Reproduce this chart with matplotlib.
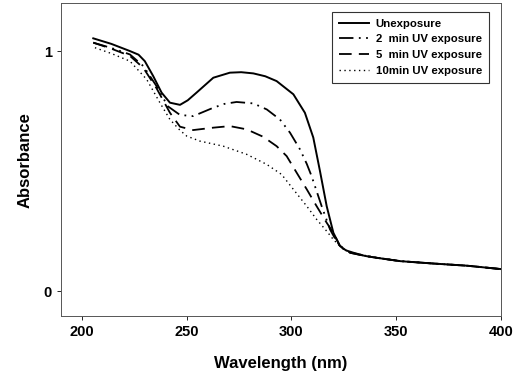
import numpy as np
import matplotlib.pyplot as plt

plt.rcParams['font.family'] = 'Liberation Sans'
plt.rcParams['xtick.direction'] = 'out'
plt.rcParams['ytick.direction'] = 'out'

# wavelength (nm) and absorbance
wl_0 = [205.4, 214, 222.9, 227, 230, 234, 238, 242, 246.8, 250.5, 254.7, 262.7, 270.6, 276, 281.8, 287.5,
        292.9, 300.9, 306.4, 310.4, 313.6, 316.8, 320, 323.2, 326, 329.6, 335, 340.7, 352, 368, 384, 400]
ab_0 = [1.053, 1.03, 1.0, 0.985, 0.958, 0.896, 0.827, 0.785, 0.776, 0.795, 0.827, 0.889, 0.91, 0.912, 0.907, 0.895,
        0.875, 0.82, 0.743, 0.64, 0.50, 0.354, 0.243, 0.1875, 0.17, 0.16, 0.147, 0.139, 0.125, 0.115, 0.106, 0.092]

wl_2 = [205.4, 214, 222.9, 229.3, 235.6, 241, 246.8, 253.1, 262.7, 268, 273.8, 281.8, 288.2, 294.5, 299.3, 304.1,
        307.3, 309.6, 314.4, 318.4, 321.5, 324, 328, 335, 340.7, 352, 368, 384, 400]
ab_2 = [1.035, 1.013, 0.986, 0.9375, 0.854, 0.77, 0.734, 0.729, 0.764, 0.78, 0.788, 0.782, 0.757, 0.715, 0.66, 0.59,
        0.53, 0.479, 0.354, 0.257, 0.208, 0.18, 0.16, 0.147, 0.139, 0.125, 0.115, 0.106, 0.092]

wl_5 = [205.4, 214, 222.9, 229.3, 235.6, 242, 246.8, 253.1, 262.7, 270.6, 278.6, 286.5, 292.9, 297.7, 302.5,
        307.3, 312, 316.8, 320, 323, 328, 335, 340.7, 352, 368, 384, 400]
ab_5 = [1.035, 1.01, 0.98, 0.93, 0.845, 0.743, 0.685, 0.671, 0.681, 0.6875, 0.674, 0.643, 0.604, 0.5625, 0.493,
        0.424, 0.354, 0.285, 0.243, 0.19, 0.16, 0.147, 0.139, 0.125, 0.115, 0.106, 0.092]

wl_10 = [206.2, 214, 222.9, 230.9, 237.2, 242, 246.8, 250, 256.3, 267.4, 278.6, 288.2, 295.3, 300.9, 307.3,
         312, 316.8, 320, 324, 328, 335, 340.7, 352, 368, 384, 400]
ab_10 = [1.014, 0.99, 0.958, 0.882, 0.785, 0.715, 0.67, 0.646, 0.625, 0.604, 0.57, 0.528, 0.486, 0.424, 0.354,
         0.299, 0.25, 0.215, 0.18, 0.162, 0.149, 0.14, 0.126, 0.115, 0.106, 0.092]

labels = ['Unexposure', '2  min UV exposure', '5  min UV exposure', '10min UV exposure']

fig = plt.figure(figsize=(5.23, 3.80), dpi=100)
ax = fig.add_axes([0.1166, 0.168, 0.8414, 0.824])

ax.plot(wl_0, ab_0, color='k', lw=1.4, ls='-', label=labels[0])
ax.plot(wl_2, ab_2, color='k', lw=1.3, ls=(0, (8, 3, 1, 3, 1, 3)), label=labels[1])
ax.plot(wl_5, ab_5, color='k', lw=1.3, ls=(0, (7, 4)), label=labels[2])
ax.plot(wl_10, ab_10, color='k', lw=1.0, ls=(0, (1, 2.5)), label=labels[3])

ax.set_xlim(190, 400)
ax.set_ylim(-0.104, 1.2)
ax.set_xticks([200, 250, 300, 350, 400])
ax.set_yticks([0, 1])
ax.tick_params(labelsize=10.5, length=3, width=0.6)
for lab in ax.get_xticklabels() + ax.get_yticklabels():
    lab.set_fontweight('bold')

for sp in ax.spines.values():
    sp.set_linewidth(0.7)
    sp.set_color('#555555')

ax.set_xlabel('Wavelength (nm)', fontsize=12, fontweight='bold', labelpad=12)
ax.set_ylabel('Absorbance', fontsize=12, fontweight='bold', labelpad=8)

leg = ax.legend(loc='upper right', bbox_to_anchor=(0.985, 0.99), fontsize=8.2,
                frameon=True, fancybox=False, edgecolor='k', handlelength=2.6,
                borderpad=0.6, labelspacing=0.5, handletextpad=0.6)
leg.get_frame().set_linewidth(0.8)
for t in leg.get_texts():
    t.set_fontweight('bold')

fig.savefig('out.png', dpi=100)
